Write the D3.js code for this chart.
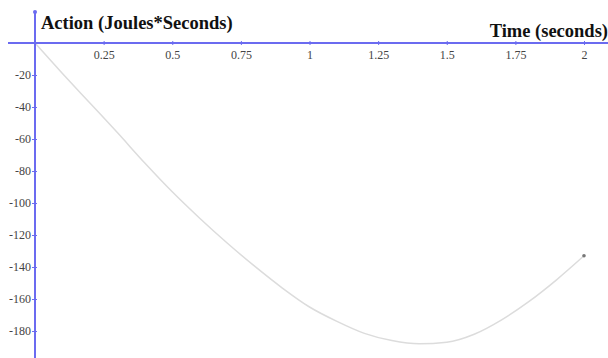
<!DOCTYPE html>
<html>
<head>
<meta charset="utf-8">
<script src="https://cdn.jsdelivr.net/npm/d3@7"></script>
<style>
  body { margin: 0; background: #fff; }
  svg { display: block; }
</style>
</head>
<body>
<div id="chart"></div>
<script>
// data
var timeValues = [0, 0.1, 0.2, 0.3, 0.4, 0.5, 0.6, 0.7, 0.8, 0.9, 1.0,
                  1.1, 1.2, 1.3, 1.4, 1.5, 1.6, 1.7, 1.8, 1.9, 2.0];
var actionValues = [0, -19, -37.5, -56, -75, -93, -109.5, -125, -139.5, -153, -165,
                    -174, -181.5, -186, -188, -187, -182, -173, -161.5, -148, -133];
var xTicks = [0.25, 0.5, 0.75, 1, 1.25, 1.5, 1.75, 2];
var xTickLabels = ["0.25", "0.5", "0.75", "1", "1.25", "1.5", "1.75", "2"];
var yTicks = [-20, -40, -60, -80, -100, -120, -140, -160, -180];
var yTickLabels = ["-20", "-40", "-60", "-80", "-100", "-120", "-140", "-160", "-180"];

var svgWidth = 608;
var svgHeight = 358;
var axisColor = "#6b6bf0";
var font = "'Liberation Serif', 'Times New Roman', serif";

var points = timeValues.map(function(t, i) {
  return { t: t, a: actionValues[i] };
});

var svg = d3.select("#chart")
  .append("svg")
  .attr("width", svgWidth)
  .attr("height", svgHeight);

// scales
var xScale = d3.scaleLinear().domain([0, 2]).range([35, 584]);
var yScale = d3.scaleLinear().domain([0, -180]).range([43, 331]);

// curve
var line = d3.line()
  .x(d => xScale(d.t))
  .y(d => yScale(d.a))
  .curve(d3.curveMonotoneX);

svg.append("path")
  .datum(points)
  .attr("d", line)
  .attr("fill", "none")
  .attr("stroke", "#dcdcdc")
  .attr("stroke-width", 1.5);

// end point
var last = points[points.length - 1];
svg.append("circle")
  .attr("cx", xScale(last.t))
  .attr("cy", yScale(last.a))
  .attr("r", 1.8)
  .attr("fill", "#777");

// x axis
var xAxis = d3.axisBottom(xScale)
  .tickValues(xTicks)
  .tickFormat((d, i) => xTickLabels[i])
  .tickSize(3)
  .tickPadding(4);

var xg = svg.append("g")
  .attr("transform", `translate(0, ${yScale(0)})`)
  .call(xAxis);
xg.select(".domain").remove();
xg.selectAll(".tick line").attr("stroke", axisColor).attr("y1", -2).attr("y2", 2);
xg.selectAll(".tick text")
  .attr("fill", "#444")
  .attr("font-family", font)
  .attr("font-size", "12px");

svg.append("line")
  .attr("x1", 8).attr("x2", svgWidth)
  .attr("y1", yScale(0)).attr("y2", yScale(0))
  .attr("stroke", axisColor)
  .attr("stroke-width", 2);

// y axis
var yAxis = d3.axisLeft(yScale)
  .tickValues(yTicks)
  .tickFormat((d, i) => yTickLabels[i])
  .tickSize(3)
  .tickPadding(1);

var yg = svg.append("g")
  .attr("transform", `translate(${xScale(0)}, 0)`)
  .call(yAxis);
yg.select(".domain").remove();
yg.selectAll(".tick line").attr("stroke", axisColor).attr("x1", 2).attr("x2", -3);
yg.selectAll(".tick text")
  .attr("fill", "#444")
  .attr("font-family", font)
  .attr("font-size", "12px");

svg.append("line")
  .attr("x1", xScale(0)).attr("x2", xScale(0))
  .attr("y1", 12).attr("y2", svgHeight)
  .attr("stroke", axisColor)
  .attr("stroke-width", 2);

svg.append("circle")
  .attr("cx", xScale(0))
  .attr("cy", 12)
  .attr("r", 2)
  .attr("fill", axisColor);

// axis titles
svg.append("text")
  .attr("x", 41)
  .attr("y", 29)
  .attr("font-family", font)
  .attr("font-size", "18.5px")
  .attr("font-weight", "bold")
  .attr("fill", "#111")
  .text("Action (Joules*Seconds)");

svg.append("text")
  .attr("x", 608)
  .attr("y", 37)
  .attr("text-anchor", "end")
  .attr("font-family", font)
  .attr("font-size", "18.5px")
  .attr("font-weight", "bold")
  .attr("fill", "#111")
  .text("Time (seconds)");
</script>
</body>
</html>
